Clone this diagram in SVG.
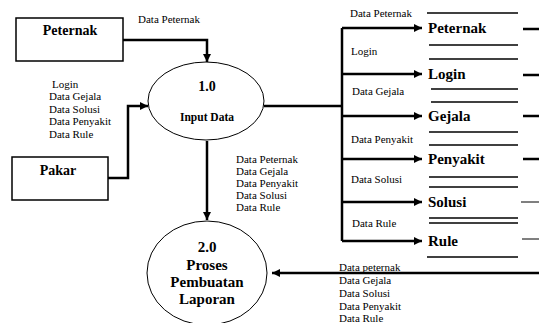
<svg xmlns="http://www.w3.org/2000/svg" width="539" height="323" viewBox="0 0 539 323">
<defs>
<marker id="ah" viewBox="0 0 10 10" refX="10" refY="5" markerWidth="3.2" markerHeight="3.2" orient="auto" markerUnits="strokeWidth">
<path d="M0,0 L10,5 L0,10 z" fill="#000"/>
</marker>
</defs>
<style>
text{font-family:"Liberation Serif","Times New Roman",serif;fill:#000}
.s{font-size:11px}
.b{font-weight:bold;font-size:14px}
.st{font-weight:bold;font-size:15px}
.box{fill:#fff;stroke:#000;stroke-width:1.5}
.proc{fill:#fff;stroke:#000;stroke-width:1}
.f{fill:none;stroke:#000;stroke-width:2.5}
.ln{stroke:#000;stroke-width:1.5}
.thin{stroke:#000;stroke-width:1}
</style>
<rect width="539" height="323" fill="#fff"/>

<g id="connectors">
<path class="f" d="M123,40 H207 V62" marker-end="url(#ah)"/>
<path class="f" d="M108,178 H128 V106 H148" marker-end="url(#ah)"/>
<path class="f" d="M207,141 V220" marker-end="url(#ah)"/>
<path class="f" d="M264,106 H342"/>
<path class="f" d="M342,28 V241"/>
<path class="f" d="M342,28 H422" marker-end="url(#ah)"/>
<path class="f" d="M342,74 H422" marker-end="url(#ah)"/>
<path class="f" d="M342,116 H422" marker-end="url(#ah)"/>
<path class="f" d="M342,159 H422" marker-end="url(#ah)"/>
<path class="f" d="M342,202 H422" marker-end="url(#ah)"/>
<path class="f" d="M342,241 H422" marker-end="url(#ah)"/>
<path class="f" d="M539,273 H272" marker-end="url(#ah)"/>
<path class="f" d="M523,29 H539 M523,75 H539 M523,116 H539 M523,159 H539"/>
<path class="thin" d="M521,202 H539 M522,239 H539"/>
<text class="s" x="138" y="23">Data Peternak</text>
<text class="s" x="52" y="88">Login</text>
<text class="s" x="49" y="100">Data Gejala</text>
<text class="s" x="49" y="113">Data Solusi</text>
<text class="s" x="49" y="125">Data Penyakit</text>
<text class="s" x="49" y="138">Data Rule</text>
<text class="s" x="236" y="163">Data Peternak</text>
<text class="s" x="236" y="175">Data Gejala</text>
<text class="s" x="236" y="187">Data Penyakit</text>
<text class="s" x="236" y="199">Data Solusi</text>
<text class="s" x="236" y="211">Data Rule</text>
<text class="s" x="350" y="17">Data Peternak</text>
<text class="s" x="351" y="55">Login</text>
<text class="s" x="352" y="95">Data Gejala</text>
<text class="s" x="351" y="143">Data Penyakit</text>
<text class="s" x="351" y="183">Data Solusi</text>
<text class="s" x="352" y="227">Data Rule</text>
<text class="s" x="339" y="271">Data peternak</text>
<text class="s" x="339" y="284">Data  Gejala</text>
<text class="s" x="339" y="297">Data Solusi</text>
<text class="s" x="339" y="310">Data Penyakit</text>
<text class="s" x="339" y="322">Data Rule</text>
</g>

<g id="peternak">
<rect class="box" x="16" y="18" width="107" height="43"/>
<text class="b" x="70" y="35" text-anchor="middle">Peternak</text>
</g>

<g id="pakar">
<rect class="box" x="12" y="157" width="96" height="43"/>
<text class="b" x="58" y="175" text-anchor="middle">Pakar</text>
</g>

<g id="p1">
<ellipse class="proc" cx="206" cy="101" rx="58" ry="39"/>
<text class="b" x="207" y="91" text-anchor="middle">1.0</text>
<text x="207" y="121" text-anchor="middle" font-weight="bold" font-size="11.5">Input Data</text>
</g>

<g id="p2">
<ellipse class="proc" cx="207" cy="273" rx="60" ry="52"/>
<text class="st" x="207" y="252" text-anchor="middle">2.0</text>
<text class="st" x="207" y="270" text-anchor="middle">Proses</text>
<text class="st" x="207" y="287" text-anchor="middle">Pembuatan</text>
<text class="st" x="207" y="304" text-anchor="middle">Laporan</text>
</g>

<g id="ds-peternak">
<line class="ln" x1="427" y1="13" x2="518" y2="13"/>
<text class="st" x="428" y="33">Peternak</text>
<line class="ln" x1="429" y1="45" x2="518" y2="45"/>
</g>
<g id="ds-login">
<line class="ln" x1="429" y1="59" x2="518" y2="59"/>
<text class="st" x="428" y="79">Login</text>
<line class="ln" x1="431" y1="89" x2="518" y2="89"/>
</g>
<g id="ds-gejala">
<line class="ln" x1="431" y1="102" x2="518" y2="102"/>
<text class="st" x="428" y="121">Gejala</text>
<line class="ln" x1="429" y1="132" x2="518" y2="132"/>
</g>
<g id="ds-penyakit">
<line class="ln" x1="429" y1="145" x2="518" y2="145"/>
<text class="st" x="428" y="164">Penyakit</text>
<line class="ln" x1="429" y1="177" x2="518" y2="177"/>
</g>
<g id="ds-solusi">
<line class="ln" x1="429" y1="187" x2="518" y2="187"/>
<text class="st" x="428" y="207">Solusi</text>
<line class="ln" x1="429" y1="218" x2="518" y2="218"/>
</g>
<g id="ds-rule">
<line class="ln" x1="429" y1="223" x2="518" y2="223"/>
<text class="st" x="428" y="246">Rule</text>
<line class="ln" x1="427" y1="257" x2="518" y2="257"/>
</g>
</svg>
